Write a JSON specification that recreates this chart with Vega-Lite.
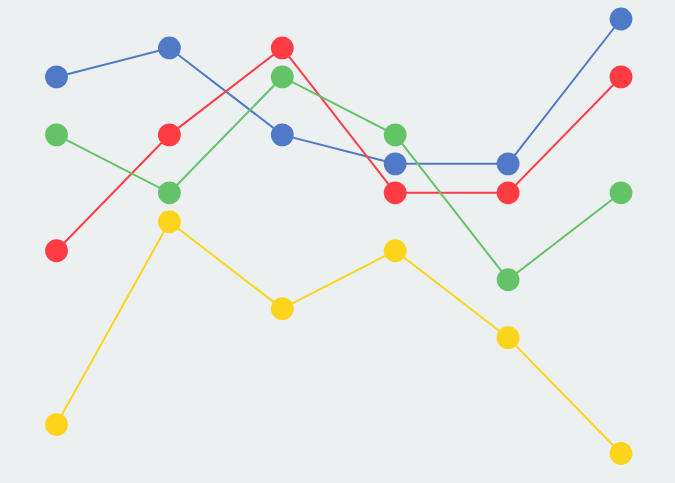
{
  "$schema": "https://vega.github.io/schema/vega-lite/v6.json",
  "width": 675,
  "height": 483,
  "padding": 0,
  "autosize": {"type": "none"},
  "background": "#ecf0f1",
  "config": {"view": {"stroke": null}},
  "data": {
    "values": [
      {"step": 0, "series": "A", "value": 13},
      {"step": 1, "series": "A", "value": 14},
      {"step": 2, "series": "A", "value": 11},
      {"step": 3, "series": "A", "value": 10},
      {"step": 4, "series": "A", "value": 10},
      {"step": 5, "series": "A", "value": 15},
      {"step": 0, "series": "B", "value": 7},
      {"step": 1, "series": "B", "value": 11},
      {"step": 2, "series": "B", "value": 14},
      {"step": 3, "series": "B", "value": 9},
      {"step": 4, "series": "B", "value": 9},
      {"step": 5, "series": "B", "value": 13},
      {"step": 0, "series": "C", "value": 11},
      {"step": 1, "series": "C", "value": 9},
      {"step": 2, "series": "C", "value": 13},
      {"step": 3, "series": "C", "value": 11},
      {"step": 4, "series": "C", "value": 6},
      {"step": 5, "series": "C", "value": 9},
      {"step": 0, "series": "D", "value": 1},
      {"step": 1, "series": "D", "value": 8},
      {"step": 2, "series": "D", "value": 5},
      {"step": 3, "series": "D", "value": 7},
      {"step": 4, "series": "D", "value": 4},
      {"step": 5, "series": "D", "value": 0}
    ]
  },
  "encoding": {
    "x": {
      "field": "step",
      "type": "quantitative",
      "scale": {"domain": [0, 5], "range": [56.5, 621]},
      "axis": null
    },
    "y": {
      "field": "value",
      "type": "quantitative",
      "scale": {"domain": [0, 15], "range": [453.5, 19]},
      "axis": null
    },
    "color": {
      "field": "series",
      "type": "nominal",
      "scale": {"domain": ["A", "B", "C", "D"], "range": ["#5079c8", "#ff3b44", "#64c366", "#fcd41c"]},
      "legend": null
    }
  },
  "layer": [
    {"mark": {"type": "line", "strokeWidth": 2}},
    {"mark": {"type": "circle", "size": 520, "opacity": 1}}
  ]
}
